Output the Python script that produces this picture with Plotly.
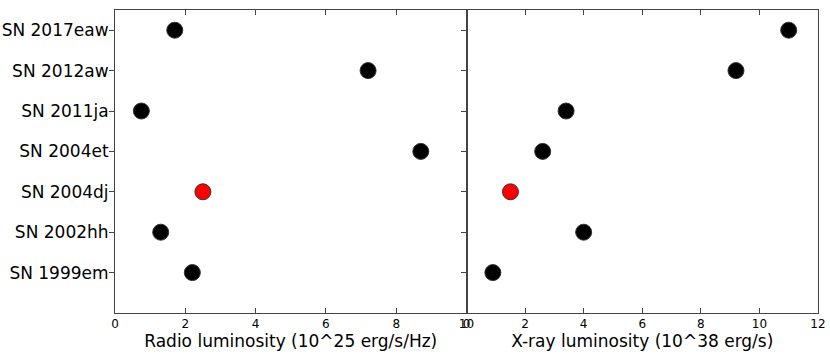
import plotly.graph_objects as go

supernovae = ["SN 1999em", "SN 2002hh", "SN 2004dj", "SN 2004et", "SN 2011ja", "SN 2012aw", "SN 2017eaw"]
radio_lum = [2.2, 1.3, 2.5, 8.7, 0.75, 7.2, 1.7]
xray_lum = [0.9, 4.0, 1.5, 2.6, 3.4, 9.2, 11.0]
highlight = "SN 2004dj"

colors = ["red" if sn == highlight else "black" for sn in supernovae]

fig = go.Figure()

fig.add_trace(
    go.Scatter(
        x=radio_lum,
        y=supernovae,
        mode="markers",
        marker=dict(size=16, color=colors, line=dict(color="#333333", width=1)),
        xaxis="x",
        yaxis="y",
        showlegend=False,
    )
)
fig.add_trace(
    go.Scatter(
        x=xray_lum,
        y=supernovae,
        mode="markers",
        marker=dict(size=16, color=colors, line=dict(color="#333333", width=1)),
        xaxis="x2",
        yaxis="y2",
        showlegend=False,
    )
)

axis_common = dict(
    showline=True,
    linecolor="#444444",
    linewidth=1,
    showgrid=False,
    zeroline=False,
    ticklen=5,
    tickcolor="#444444",
    automargin=False,
)

fig.update_layout(
    width=830,
    height=360,
    margin=dict(l=115, r=12, t=10, b=47),
    plot_bgcolor="white",
    paper_bgcolor="white",
    font=dict(family="DejaVu Sans", color="black"),
    xaxis=dict(
        domain=[0, 0.5],
        range=[0, 10],
        dtick=2,
        ticks="inside",
        mirror="ticks",
        tickfont=dict(size=12),
        title=dict(text="Radio luminosity (10^25 erg/s/Hz)", font=dict(size=17), standoff=2),
        anchor="y",
        **axis_common,
    ),
    xaxis2=dict(
        domain=[0.5, 1],
        range=[0, 12],
        dtick=2,
        ticks="inside",
        mirror="ticks",
        tickfont=dict(size=12),
        title=dict(text="X-ray luminosity (10^38 erg/s)", font=dict(size=17), standoff=2),
        anchor="y2",
        **axis_common,
    ),
    yaxis=dict(
        type="category",
        categoryorder="array",
        categoryarray=supernovae,
        range=[-1, 6.5],
        ticks="outside",
        mirror=True,
        tickfont=dict(size=17),
        ticklabelstandoff=-3,
        anchor="x",
        **axis_common,
    ),
    yaxis2=dict(
        type="category",
        categoryorder="array",
        categoryarray=supernovae,
        range=[-1, 6.5],
        matches="y",
        ticks="outside",
        showticklabels=False,
        mirror=True,
        anchor="x2",
        **axis_common,
    ),
)

# the page's default body margin shifts the plot by 8px
fig.write_html(
    "out.html",
    config={"displayModeBar": False},
    post_script="document.body.style.margin = '0';",
)
